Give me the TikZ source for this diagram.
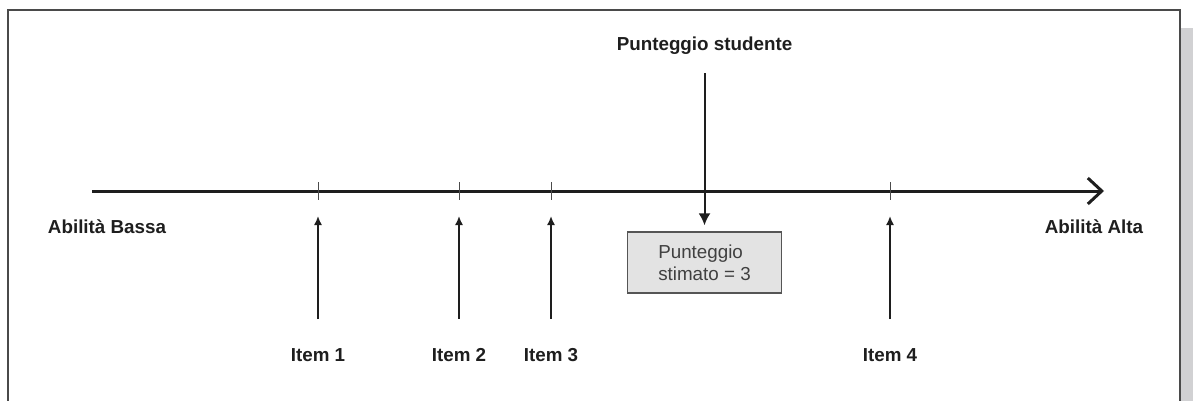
\documentclass[tikz,border=0pt]{standalone}
\usepackage{fontspec}
\setmainfont{Liberation Sans}
\usetikzlibrary{arrows.meta}
\definecolor{framegray}{HTML}{4A4A4A}
\definecolor{stripgray}{HTML}{D1D1D3}
\definecolor{boxfill}{HTML}{E3E3E3}
\definecolor{boxline}{HTML}{555555}
\definecolor{inkblack}{HTML}{1E1E1E}
\tikzset{
  axislabel/.style={
    font=\fontsize{9.4}{11}\selectfont\bfseries, text=inkblack,
    inner sep=0pt, anchor=base
  },
  scorebox/.style={
    rectangle, draw=boxline, line width=0.65pt, fill=boxfill,
    minimum width=77pt, minimum height=30.5pt, inner sep=0pt,
    align=left, font=\fontsize{9.4}{11}\selectfont, text=inkblack!85
  },
  axisline/.style={
    -{Straight Barb[length=7pt,width=13pt]}, line width=1.5pt, draw=inkblack
  },
  tickmark/.style={line width=0.5pt, draw=inkblack!80},
  itemarrow/.style={
    -{Latex[length=4.5pt,width=4pt]}, line width=0.8pt, draw=inkblack
  },
  scorearrow/.style={
    -{Latex[length=6pt,width=6pt]}, line width=1pt, draw=inkblack
  }
}
\begin{document}
\begin{tikzpicture}[x=0.5pt, y=-0.5pt]
      % Canvas and frame
      \useasboundingbox (0,0) rectangle (1193,401);
      \fill[stripgray] (1181,28) rectangle (1193,401);
      \draw[framegray, line width=0.6pt] (8,401) -- (8,10) -- (1180,10) -- (1180,401);

      % Ability axis
      \coordinate (low) at (92,191);
      \coordinate (high) at (1104,191);
      \draw[axisline] (low) -- (high);
      \node[axislabel] (bassa) at (107,233) {Abilità Bassa};
      \node[axislabel] (alta) at (1094,233) {Abilità Alta};

      % Items
      \foreach \x/\n in {318/1, 459/2, 551/3, 890/4} {
        \coordinate (tick\n) at (\x,191);
        \draw[tickmark] ([yshift=4.5pt]tick\n) -- ([yshift=-4.5pt]tick\n);
        \node[axislabel] (item\n) at (\x,361) {Item \n};
        \draw[itemarrow, shorten <=14.25pt, shorten >=12.5pt] (item\n) -- (tick\n);
      }

      % Student score
      \node[axislabel] (studente) at (704.5,51) {Punteggio studente};
      \node[scorebox] (stima) at (704.5,262.5) {Punteggio\\stimato = 3};
      \draw[scorearrow, shorten <=9pt, shorten >=3pt] (studente) -- (stima);
    \end{tikzpicture}
\end{document}
